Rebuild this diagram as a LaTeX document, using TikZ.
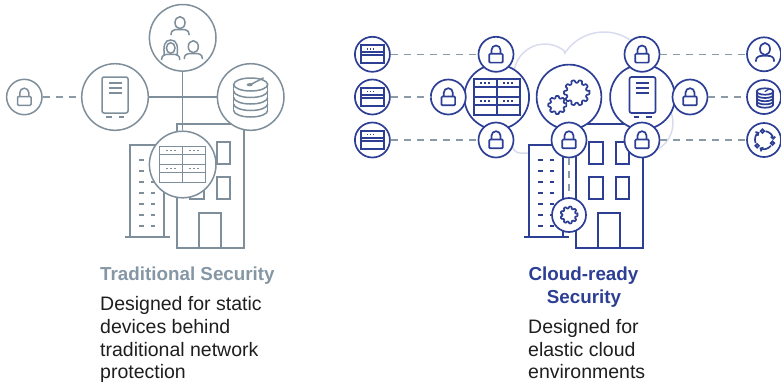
\documentclass[tikz,border=0pt]{standalone}
\usepackage{fontspec}
\setmainfont{Liberation Sans}
\usetikzlibrary{arrows.meta}

\definecolor{lgray}{HTML}{7E8F9B}
\definecolor{dgray}{HTML}{8A9AA7}
\definecolor{cblue}{HTML}{2D3E95}
\definecolor{cloudc}{HTML}{D9DBEE}
\definecolor{tgray}{HTML}{8597A5}
\definecolor{ink}{HTML}{1E1E1E}

% gear outline: centre x, centre y, root radius, tip radius, teeth
\newcommand{\gearoutline}[5]{%
  \draw[shift={(#1,#2)}, line join=round, rounded corners=0.6pt] ({-0.2*360/#5}:#4)
    \foreach \k in {1,...,#5}{ -- ({(\k-1+0.2)*360/#5}:#4) -- ({(\k-1+0.35)*360/#5}:#3)
      -- ({(\k-1+0.65)*360/#5}:#3) -- ({(\k-1+0.8)*360/#5}:#4) } -- cycle;
}

\tikzset{
  leftart/.style={color=lgray, line width=1.5pt},
  rightart/.style={color=cblue, line width=1.7pt},
  iconring/.style={circle, draw, fill=white, inner sep=0pt, minimum size=#1},
  dashline/.style={draw=dgray, line width=1.5pt, dash pattern=on 7pt off 6pt},
  titlefont/.style={font=\fontsize{18.8}{21}\selectfont\bfseries, inner sep=0pt},
  bodyfont/.style={font=\fontsize{19.5}{22}\selectfont, text=ink, inner sep=0pt, anchor=base west},
  lockicon/.pic={
    \draw[rounded corners=1pt] (-6.8,-0.5) rectangle (6.8,8.3);
    \draw (-4.5,-0.5) -- (-4.5,-4.3) arc[start angle=180,end angle=360,radius=4.5] -- (4.5,-0.5);
  },
  rackicon/.pic={
    \draw (-23,-18) rectangle (23,18);
    \draw (0,-18) -- (0,18);
    \draw (-23,-10) -- (23,-10) (-23,0) -- (23,0) (-23,8) -- (23,8);
    \foreach \dx in {-16,-12,-8,7,11,15}{\foreach \dy in {-14,4}{
      \fill (\dx-0.9,\dy-0.9) rectangle (\dx+0.9,\dy+0.9);}}
  },
  miniserver/.pic={
    \draw (-11.5,-9) rectangle (11.5,9);
    \draw (-11.5,-2.2) -- (11.5,-2.2) (-11.5,1) -- (11.5,1);
    \foreach \dx in {-5,-2,1}{\fill (\dx-0.8,-6.4) rectangle (\dx+0.8,-4.8);}
  },
  docicon/.pic={
    \draw[rounded corners=2pt] (-13,-20) rectangle (13,16);
    \draw (-6.5,-14) -- (6.5,-14) (-6.5,-9) -- (6.5,-9) (-6.5,-4) -- (6.5,-4);
    \draw (-9,20) -- (-3.5,20) (3.5,20) -- (9,20);
  },
  dbicon/.pic={
    \draw (0,-12.5) ellipse[x radius=17,y radius=6.5];
    \draw (-17,-12.5) -- (-17,13.5) (17,-12.5) -- (17,13.5);
    \foreach \c in {-6,0.5,7,13.5}{
      \draw (-17,\c) arc[start angle=180,end angle=0,x radius=17,y radius=6.5];}
    \draw[line cap=round] (0,-12.5) -- (12.5,-19);
    \fill (-1,-12.3) ellipse[x radius=3,y radius=1.6];
  },
  dbsmall/.pic={
    \draw (0,-6.5) ellipse[x radius=8.3,y radius=3.2];
    \draw (-8.3,-6.5) -- (-8.3,6.5) (8.3,-6.5) -- (8.3,6.5);
    \foreach \c in {-3.2,0,3.2,6.5}{
      \draw (-8.3,\c) arc[start angle=180,end angle=0,x radius=8.3,y radius=3.2];}
    \draw[line cap=round, line width=1.2pt] (0,-6.5) -- (5,-9.5);
  },
  manicon/.pic={
    \draw (0,0) ellipse[x radius=5,y radius=6];
    \draw (-9,12.5) -- (-9,11.5) .. controls (-9,8) and (-6,6.8) .. (-2.5,6.8)
      -- (2.5,6.8) .. controls (6,6.8) and (9,8) .. (9,11.5) -- (9,12.5);
  },
  womanicon/.pic={
    \draw (0,0.5) ellipse[x radius=4.3,y radius=5.3];
    \draw (-6.3,8) .. controls (-7.5,-1) and (-6.5,-7.5) .. (0,-7.5)
      .. controls (6.5,-7.5) and (7.5,-1) .. (6.3,8);
    \draw (-9,12.5) -- (-9,11.5) .. controls (-9,8) and (-6,6.8) .. (-2.5,6.8)
      -- (2.5,6.8) .. controls (6,6.8) and (9,8) .. (9,11.5) -- (9,12.5);
  },
  cycleicon/.pic={
    \foreach \a in {-100,20,140}{\draw ({\a}:9) circle[radius=1.8];}
    \foreach \a in {-100,20,140}{
      \draw[-{Straight Barb[length=2.2pt,width=4.4pt]}] ({\a+20}:9)
        arc[start angle=\a+20,end angle=\a+100,radius=9];}
  }
}

\begin{document}
\begin{tikzpicture}[x=1pt,y=-1pt]
\useasboundingbox (0,0) rectangle (781,384);

% ================= traditional security =================
\begin{scope}[leftart]
  % narrow tower
  \draw[fill=white] (130,237) -- (130,145) -- (164,145) -- (164,237);
  \draw (125,237) -- (170,237);
  \foreach \wy in {160,171,182,193,204,215,226}{
    \draw (139,\wy) -- (144,\wy) (151,\wy) -- (155,\wy);}
  % office block
  \draw[fill=white] (177,124) rectangle (244,248);
  \draw (190,142) rectangle (204,164) (190,177) rectangle (204,199)
        (217,142) rectangle (230,164) (217,177) rectangle (230,199);
  \draw (199,248) -- (199,213) -- (221,213) -- (221,248);

  % network members
  \node[iconring=35.4pt] (llock) at (24.3,97) {};
  \node[iconring=66.6pt] (ldoc) at (115,97) {};
  \node[iconring=66.6pt] (lppl) at (182.7,37.8) {};
  \node[iconring=66.6pt] (ldb) at (250.7,97) {};
  \node[iconring=66.6pt] (lsrv) at (182.7,164.5) {};

  % links
  \draw[dashline] (llock) -- (ldoc);
  \draw (ldoc) -- (ldb);
  \draw (lppl) -- (lsrv);

  % icons
  \pic at (24.3,97) {lockicon};
  \pic at (115,97) {docicon};
  \pic at (250.7,97) {dbicon};
  \pic at (182.7,164.5) {rackicon};
  \pic at (180,22.7) {manicon};
  \pic at (170.7,47.5) {womanicon};
  \pic at (193.3,46.7) {manicon};
\end{scope}

\node[titlefont, text=tgray, anchor=base west] (ltitle) at (100,280) {Traditional Security};
\node[bodyfont] (lbody1) at (100,310) {Designed for static};
\node[bodyfont] (lbody2) at (100,333) {devices behind};
\node[bodyfont] (lbody3) at (100,356) {traditional network};
\node[bodyfont] (lbody4) at (100,378) {protection};

% ================= cloud-ready security =================
% cloud outline behind everything
\draw[cloudc, line width=1.5pt, line join=round]
  (520,153) .. controls (503,153) and (507,96) .. (515,67)
  arc[start angle=-165, end angle=-52, radius=31]
  -- (564.6,53.4)
  arc[start angle=-147, end angle=10, radius=47]
  -- (648.2,93.5)
  arc[start angle=-80, end angle=90, radius=30]
  -- cycle;

\begin{scope}[rightart]
  % narrow tower
  \draw[fill=white] (529,237) -- (529,145) -- (563,145) -- (563,237);
  \draw (524,237) -- (569,237);
  \foreach \wy in {160,171,182,193,204,215,226}{
    \draw (538,\wy) -- (543,\wy) (550,\wy) -- (554,\wy);}
  % office block
  \draw[fill=white] (576,124) rectangle (643,248);
  \draw (589,142) rectangle (603,164) (589,177) rectangle (603,199)
        (616,142) rectangle (629,164) (616,177) rectangle (629,199);
  \draw (598,248) -- (598,213) -- (620,213) -- (620,248);

  % main hubs
  \node[iconring=64.8pt] (srv) at (496.7,97) {};
  \node[iconring=64.8pt] (gear) at (569,97) {};
  \node[iconring=64.8pt] (doc) at (642.5,97) {};

  % devices on the left
  \node[iconring=35pt] (s1) at (372.4,54.3) {};
  \node[iconring=35pt] (s2) at (372.4,97) {};
  \node[iconring=35pt] (s3) at (372.4,140) {};

  % locks around the hubs
  \node[iconring=35pt] (lk1) at (496,54.3) {};
  \node[iconring=35pt] (lk2) at (448.3,97) {};
  \node[iconring=35pt] (lk3) at (496,140) {};
  \node[iconring=35pt] (glk) at (569,140) {};
  \node[iconring=35pt] (dlk1) at (642,54.3) {};
  \node[iconring=35pt] (dlk2) at (690,97) {};
  \node[iconring=35pt] (dlk3) at (642,140) {};

  % endpoints on the right
  \node[iconring=34pt] (r1) at (764,54.3) {};
  \node[iconring=34pt] (r2) at (764,97) {};
  \node[iconring=34pt] (r3) at (764,140) {};

  % workload in the building
  \node[iconring=34pt] (sgear) at (569,215) {};

  % links
  \draw[dashline] (s1) -- (lk1);
  \draw[dashline] (s2) -- (lk2);
  \draw[dashline] (s3) -- (lk3);
  \draw[dashline] (dlk1) -- (r1);
  \draw[dashline] (dlk2) -- (r2);
  \draw[dashline] (dlk3) -- (r3);
  \draw[dashline] (glk) -- (sgear);

  % icons
  \foreach \n in {s1,s2,s3}{\pic at (\n) {miniserver};}
  \foreach \n in {lk1,lk2,lk3,glk,dlk1,dlk2,dlk3}{\pic at (\n) {lockicon};}
  \pic at (496.7,97) {rackicon};
  \pic at (642.5,97) {docicon};
  \gearoutline{576.7}{92.7}{10}{12.8}{10}
  \gearoutline{557.3}{105}{7}{9.2}{8}
  \gearoutline{569}{215}{6.6}{8.6}{9}
  \pic at (765,49) {manicon};
  \pic at (765,98) {dbsmall};
  \pic at (764,140) {cycleicon};
\end{scope}

\node[titlefont, text=cblue, anchor=base] (rtitle1) at (583.5,280) {Cloud-ready};
\node[titlefont, text=cblue, anchor=base] (rtitle2) at (584,303) {Security};
\node[bodyfont] (rbody1) at (528,333) {Designed for};
\node[bodyfont] (rbody2) at (528,356) {elastic cloud};
\node[bodyfont] (rbody3) at (528,378) {environments};
\end{tikzpicture}
\end{document}
